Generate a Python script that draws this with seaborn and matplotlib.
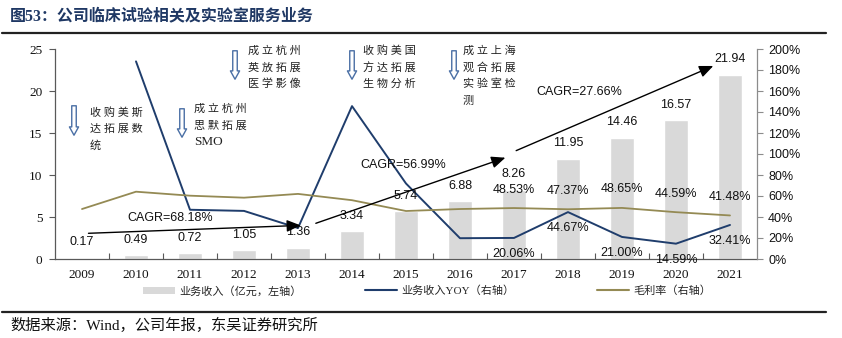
import numpy as np
import pandas as pd
import matplotlib
matplotlib.use("Agg")
import matplotlib.pyplot as plt
import seaborn as sns
from matplotlib.patches import Patch, FancyArrowPatch
from matplotlib.lines import Line2D
from matplotlib.ticker import FuncFormatter, FixedLocator

# ---------------- data ----------------
years = ["2009", "2010", "2011", "2012", "2013", "2014", "2015",
         "2016", "2017", "2018", "2019", "2020", "2021"]
revenue = [0.17, 0.49, 0.72, 1.05, 1.36, 3.34, 5.74, 6.88, 8.26, 11.95, 14.46, 16.57, 21.94]
revenue_yoy = [np.nan, 188.2, 46.9, 45.8, 29.5, 145.6, 71.9, 19.8, 20.06, 44.67, 21.00, 14.59, 32.41]
gross_margin = [47.6, 64.1, 60.3, 58.4, 62.0, 56.0, 45.7, 47.6, 48.53, 47.37, 48.65, 44.59, 41.48]
labelled_years = ["2017", "2018", "2019", "2020", "2021"]
cagr_text = ["CAGR=68.18%", "CAGR=56.99%", "CAGR=27.66%"]
events = [
    ["收购美斯", "达拓展数", "统"],
    ["成立杭州", "思默拓展", "SMO"],
    ["成立杭州", "英放拓展", "医学影像"],
    ["收购美国", "方达拓展", "生物分析"],
    ["成立上海", "观合拓展", "实验室检", "测"],
]
title = "图53：公司临床试验相关及实验室服务业务"
source = "数据来源：Wind，公司年报，东吴证券研究所"
legend_labels = ["业务收入（亿元，左轴）", "业务收入YOY（右轴）", "毛利率（右轴）"]

# ---------------- style ----------------
sns.set_style("ticks")
plt.rcParams["font.family"] = ["Liberation Sans", "Noto Sans CJK SC"]
SERIF_CJK = ["Liberation Serif", "Noto Sans CJK SC"]

BAR = "#d9d9d9"
NAVY = "#1f3d6c"
OLIVE = "#948a54"
SPINE = "#595959"
ARROW_EDGE = "#4a6fa5"
TITLE_C = "#1f3864"

W, H = 842, 338


def fxy(x, y):
    """pixel position (from top-left) -> figure fraction"""
    return x / W, 1 - y / H


fig = plt.figure(figsize=(W / 100, H / 100), dpi=100)
ax = fig.add_axes([55 / W, 79 / H, 702 / W, 210 / H])

df = pd.DataFrame({"year": years, "revenue": revenue,
                   "yoy": revenue_yoy, "margin": gross_margin})
df["pos"] = np.arange(len(years))

sns.barplot(data=df, x="year", y="revenue", color=BAR, saturation=1,
            width=0.46, ax=ax, errorbar=None, zorder=1)
ax.set_xlim(-0.5, len(years) - 0.5)
ax.set_ylim(0, 25)
ax.set_xlabel("")
ax.set_ylabel("")
ax.set_yticks(range(0, 26, 5))

ax2 = ax.twinx()
sns.lineplot(data=df, x="pos", y="yoy", color=NAVY, lw=1.4, ax=ax2)
sns.lineplot(data=df, x="pos", y="margin", color=OLIVE, lw=1.3, ax=ax2)
ax2.set_ylim(0, 200)
ax2.set_xlim(-0.5, len(years) - 0.5)
ax2.set_ylabel("")
ax2.set_xlabel("")
ax2.set_yticks(range(0, 201, 20))
ax2.yaxis.set_major_formatter(FuncFormatter(lambda v, _: f"{int(v)}%"))

# spines & ticks
for a in (ax, ax2):
    a.spines["top"].set_visible(False)
ax.spines["right"].set_visible(False)
ax2.spines["left"].set_visible(False)
ax2.spines["bottom"].set_visible(False)
ax.spines["left"].set_color(SPINE)
ax.spines["bottom"].set_color(SPINE)
ax2.spines["right"].set_color("#8c8c8c")
for s in ("left", "bottom"):
    ax.spines[s].set_linewidth(0.9)
ax2.spines["right"].set_linewidth(0.9)

ax.tick_params(axis="y", direction="out", length=4, width=0.8, color=SPINE,
               labelsize=9.5, pad=5)
ax.tick_params(axis="x", which="major", length=0, labelsize=9.5, pad=7)
ax.xaxis.set_minor_locator(FixedLocator(np.arange(0.5, len(years) - 1, 1)))
ax.tick_params(axis="x", which="minor", direction="in", length=4, width=0.8, color=SPINE)
for lab in ax.get_xticklabels() + ax.get_yticklabels():
    lab.set_fontfamily("Liberation Serif")
    lab.set_color("#111111")
ax2.tick_params(axis="y", direction="out", length=4, width=0.8, color="#8c8c8c",
                labelsize=9, pad=4)
for lab in ax2.get_yticklabels():
    lab.set_color("#111111")

# bar value labels
for i, v in enumerate(revenue):
    ax2.annotate(f"{v:.2f}", (i, v), xycoords=ax.transData, xytext=(0, 11),
                 textcoords="offset points", ha="center", va="center",
                 fontsize=9, color="#111111")

# percentage labels for recent years
for y in labelled_years:
    i = years.index(y)
    ax2.annotate(f"{gross_margin[i]:.2f}%", (i, gross_margin[i]), xytext=(0, 13.3),
                 textcoords="offset points", ha="center", va="center",
                 fontsize=9, color="#111111")
    ax2.annotate(f"{revenue_yoy[i]:.2f}%", (i, revenue_yoy[i]), xytext=(0, -11.5),
                 textcoords="offset points", ha="center", va="center",
                 fontsize=9, color="#111111")

# CAGR arrows (left-axis units)
cagr_arrows = [((0.12, 3.06), (4.05, 4.0)),
               ((4.33, 4.25), (7.84, 12.06)),
               ((8.04, 12.9), (11.69, 22.98))]
cagr_pos = [(1.64, 4.88), (5.94, 11.2), (9.21, 19.9)]
for (start, end), txt, tp in zip(cagr_arrows, cagr_text, cagr_pos):
    ax2.annotate("", xy=end, xytext=start, xycoords=ax.transData,
                 textcoords=ax.transData,
                 arrowprops=dict(arrowstyle="-|>,head_length=0.7,head_width=0.3",
                                 color="black", lw=1.0, mutation_scale=12,
                                 shrinkA=0, shrinkB=0))
    ax2.text(tp[0], tp[1], txt, transform=ax.transData, ha="center",
             va="center", fontsize=9, color="#111111")

# milestone call-outs: hollow down arrows with notes
event_arrows = [(74, 103, 138), (182, 106, 140), (235, 48, 82), (352, 48, 82), (454, 48, 82)]
event_text = [(90, 112), (194, 109), (248, 51), (363, 51), (463, 51)]
for (ax_px, y0, y1), (tx, ty), lines in zip(event_arrows, event_text, events):
    arr = FancyArrowPatch(fxy(ax_px, y0), fxy(ax_px, y1), transform=fig.transFigure,
                          arrowstyle="simple,head_length=0.5,head_width=0.55,tail_width=0.27",
                          mutation_scale=12, fc="white", ec=ARROW_EDGE, lw=1.0)
    fig.add_artist(arr)
    for j, line in enumerate(lines):
        latin = line.isascii()
        shown = line if latin else " ".join(line)
        fig.text(*fxy(tx, ty + j * 16.5), shown, ha="left", va="center",
                 fontsize=9.5 if latin else 8, family=SERIF_CJK, color="#222222")

# legend, one entry per slot
handles = [Patch(facecolor=BAR, edgecolor="none"),
           Line2D([], [], color=NAVY, lw=1.5),
           Line2D([], [], color=OLIVE, lw=1.5)]
legend_x = [143, 365, 597]
for h, lab, lx in zip(handles, legend_labels, legend_x):
    fig.legend([h], [lab], loc="center left", bbox_to_anchor=fxy(lx, 291),
               frameon=False, borderpad=0, borderaxespad=0, handlelength=2.9,
               handletextpad=0.4, prop={"family": SERIF_CJK, "size": 8})

# title, rules and source
fig.text(*fxy(10, 16), title, ha="left", va="center", fontsize=11.5,
         fontweight="bold", color=TITLE_C, family=SERIF_CJK)
fig.add_artist(Line2D([2 / W, 826 / W], [1 - 33 / H] * 2, color="#222222", lw=1.6,
                      transform=fig.transFigure))
fig.add_artist(Line2D([2 / W, 826 / W], [1 - 312 / H] * 2, color="#222222", lw=1.6,
                      transform=fig.transFigure))
fig.text(*fxy(10, 325), source, ha="left", va="center", fontsize=11,
         color="#111111", family=SERIF_CJK)

fig.savefig("out.png", dpi=100)
